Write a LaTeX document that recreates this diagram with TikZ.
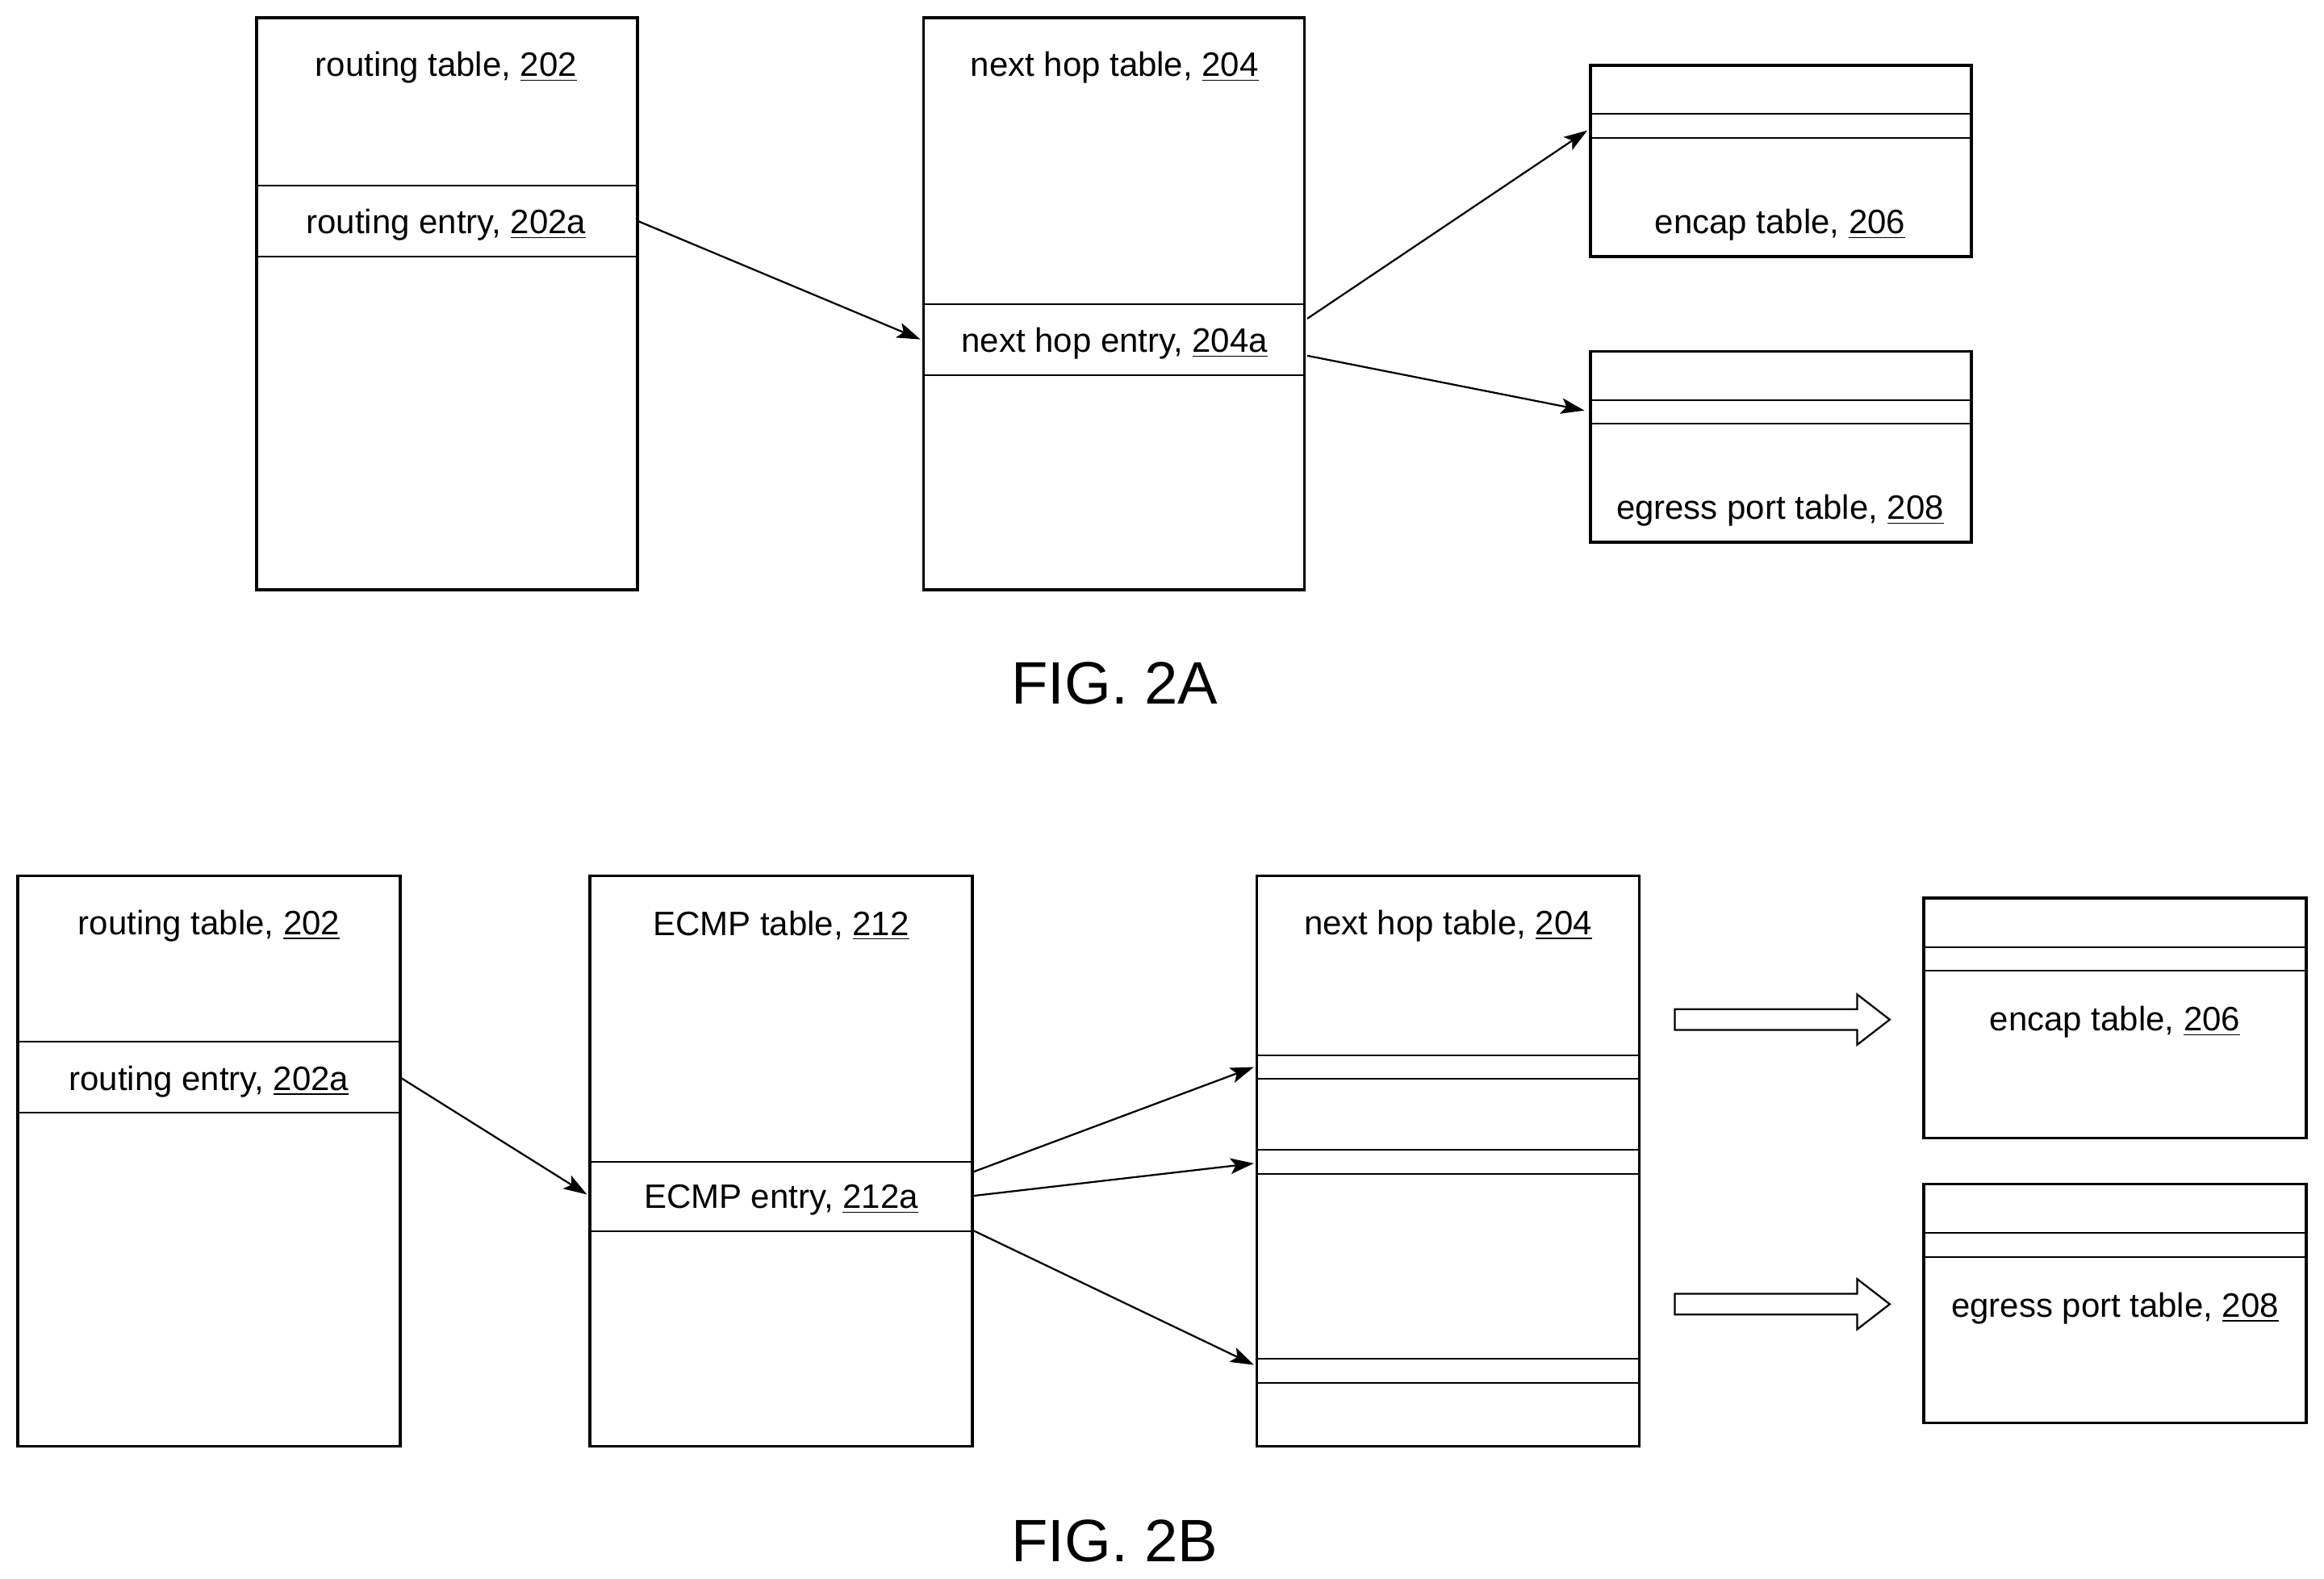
\documentclass[tikz,border=0pt]{standalone}
\usepackage{fontspec}
\setmainfont{Liberation Sans}
\usetikzlibrary{arrows.meta}
\begin{document}
\begin{tikzpicture}[x=0.02cm,y=-0.02cm,
 box/.style={line width=1.1pt},
 sep/.style={line width=0.6pt},
 lbl/.style={font=\fontsize{13}{15}\selectfont,inner sep=0pt,yshift=-1.5pt},
 fig/.style={font=\fontsize{23}{27}\selectfont,inner sep=0pt},
 arr/.style={line width=0.7pt,-{Stealth[length=9pt,width=6pt,inset=2pt]}},
 hollow/.style={line width=0.7pt,fill=white}]
\useasboundingbox (0,0) rectangle (1568,1065);
% ---------- FIG 2A
\draw[box] (173,12) rectangle (430,398);
\draw[sep] (173,125) -- (430,125) (173,173) -- (430,173);
\node[lbl] (rt) at (301,43) {routing table, \underline{202}};
\node[lbl] (re) at (301,149) {routing entry, \underline{202a}};
\draw[box] (623,12) rectangle (880,398);
\draw[sep] (623,205) -- (880,205) (623,253) -- (880,253);
\node[lbl] (nh) at (752,43) {next hop table, \underline{204}};
\node[lbl] (nhe) at (752,229) {next hop entry, \underline{204a}};
\draw[box] (1073,44) rectangle (1330,173);
\draw[sep] (1073,77) -- (1330,77) (1073,93) -- (1330,93);
\node[lbl] (en) at (1201,149) {encap table, \underline{206}};
\draw[box] (1073,237) rectangle (1330,366);
\draw[sep] (1073,270) -- (1330,270) (1073,286) -- (1330,286);
\node[lbl] (eg) at (1201,342) {egress port table, \underline{208}};
\coordinate (a1s) at (430,149); \coordinate (a1e) at (621,229);
\coordinate (a2s) at (882,215); \coordinate (a2e) at (1071,88);
\coordinate (a3s) at (882,240); \coordinate (a3e) at (1069,277);
\draw[arr] (a1s) -- (a1e);
\draw[arr] (a2s) -- (a2e);
\draw[arr] (a3s) -- (a3e);
\node[fig] (f2a) at (752,461) {FIG. 2A};
% ---------- FIG 2B
\draw[box] (12,591) rectangle (270,976);
\draw[sep] (12,703) -- (270,703) (12,751) -- (270,751);
\node[lbl] (rt2) at (141,622) {routing table, \underline{202}};
\node[lbl] (re2) at (141,727) {routing entry, \underline{202a}};
\draw[box] (398,591) rectangle (656,976);
\draw[sep] (398,784) -- (656,784) (398,831) -- (656,831);
\node[lbl] (ec) at (527,622) {ECMP table, \underline{212}};
\node[lbl] (ece) at (527,807) {ECMP entry, \underline{212a}};
\draw[box] (848,591) rectangle (1106,976);
\foreach \y in {712,728,776,792,917,933} \draw[sep] (848,\y) -- (1106,\y);
\node[lbl] (nh2) at (977,622) {next hop table, \underline{204}};
\draw[box] (1298,606) rectangle (1556,768);
\draw[sep] (1298,639) -- (1556,639) (1298,655) -- (1556,655);
\node[lbl] (en2) at (1427,687) {encap table, \underline{206}};
\draw[box] (1298,799) rectangle (1556,960);
\draw[sep] (1298,832) -- (1556,832) (1298,848) -- (1556,848);
\node[lbl] (eg2) at (1427,880) {egress port table, \underline{208}};
\coordinate (b1s) at (270,727); \coordinate (b1e) at (396,806);
\coordinate (b2s) at (656,791); \coordinate (b2e) at (846,720);
\coordinate (b3s) at (656,807); \coordinate (b3e) at (846,785);
\coordinate (b4s) at (656,830); \coordinate (b4e) at (846,921);
\draw[arr] (b1s) -- (b1e);
\draw[arr] (b2s) -- (b2e);
\draw[arr] (b3s) -- (b3e);
\draw[arr] (b4s) -- (b4e);
\foreach \y in {688,880}
 \draw[hollow] (1130,\y-7) -- (1253,\y-7) -- (1253,\y-17) -- (1275,\y) -- (1253,\y+17) -- (1253,\y+7) -- (1130,\y+7) -- cycle;
\node[fig] (f2b) at (752,1040) {FIG. 2B};
\end{tikzpicture}
\end{document}
